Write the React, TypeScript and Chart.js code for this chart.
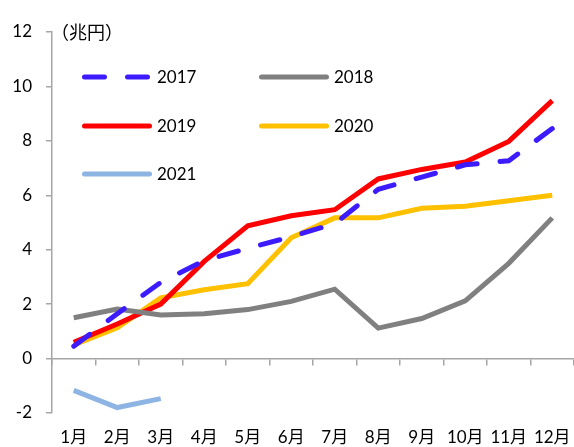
import React, { useEffect, useRef } from 'react';
import { Chart, registerables } from 'chart.js';

Chart.register(...registerables);

const months = ['1月', '2月', '3月', '4月', '5月', '6月', '7月', '8月', '9月', '10月', '11月', '12月'];
const yTickValues = [-2, 0, 2, 4, 6, 8, 10, 12];
const unitLabel = '（兆円）';

const seriesNames = ['2017', '2018', '2019', '2020', '2021'];
const s2017 = [0.45, 1.65, 2.8, 3.6, 4.05, 4.48, 4.96, 6.22, 6.67, 7.12, 7.27, 8.45];
const s2018 = [1.5, 1.82, 1.6, 1.65, 1.8, 2.1, 2.55, 1.12, 1.47, 2.12, 3.5, 5.17];
const s2019 = [0.6, 1.27, 2.0, 3.57, 4.88, 5.25, 5.47, 6.6, 6.95, 7.22, 7.98, 9.48];
const s2020 = [0.5, 1.13, 2.23, 2.53, 2.75, 4.44, 5.17, 5.17, 5.52, 5.6, 5.8, 6.0];
const s2021 = [-1.17, -1.8, -1.47];

const colors = ['#3C1CFF', '#808080', '#FF0000', '#FFC000', '#8EB4E3'];
const FONT = "Lato, 'Noto Sans CJK JP', sans-serif";
const CJK = "'Noto Sans CJK JP', sans-serif";
const AXIS_COLOR = '#A6A6A6';

const legendPlugin = {
  id: 'insideLegend',
  afterDraw(chart: any) {
    const ctx = chart.ctx;
    const ca = chart.chartArea;
    ctx.save();
    // unit label
    ctx.font = `18px ${CJK}`;
    ctx.fillStyle = '#000';
    ctx.textBaseline = 'middle';
    ctx.textAlign = 'left';
    ctx.fillText(unitLabel, ca.left - 1, ca.top);
    // legend
    ctx.font = `17px ${FONT}`;
    const cols = [ca.left + 32.5, ca.left + 209.5];
    const rows = [ca.top + 45, ca.top + 94, ca.top + 142];
    chart.data.datasets.forEach((ds: any, i: number) => {
      const x = cols[i % 2];
      const y = rows[Math.floor(i / 2)];
      ctx.save();
      ctx.strokeStyle = ds.borderColor;
      ctx.lineWidth = ds.borderWidth;
      ctx.lineCap = 'round';
      ctx.setLineDash(ds.borderDash || []);
      ctx.beginPath();
      ctx.moveTo(x, y);
      ctx.lineTo(x + 65, y);
      ctx.stroke();
      ctx.restore();
      ctx.fillStyle = '#000';
      ctx.fillText(ds.label, x + 72.5, y + 1);
    });
    ctx.restore();
  },
};

export default function App() {
  const ref = useRef<HTMLCanvasElement>(null);
  useEffect(() => {
    document.body.style.margin = '0';
    const all = [s2017, s2018, s2019, s2020, s2021];
    const chart = new Chart(ref.current!, {
      type: 'line',
      data: {
        labels: months,
        datasets: all.map((d, i) => ({
          label: seriesNames[i],
          data: d,
          borderColor: colors[i],
          backgroundColor: colors[i],
          borderWidth: 5,
          borderDash: i === 0 ? [20, 23] : [],
          borderCapStyle: i === 0 ? 'round' : 'butt',
          borderJoinStyle: 'miter',
          pointRadius: 0,
          tension: 0,
          fill: false,
        })) as any,
      },
      options: {
        animation: false,
        responsive: false,
        layout: { padding: { top: 32, right: 0, left: 0, bottom: 0 } },
        plugins: { legend: { display: false }, tooltip: { enabled: false }, title: { display: false } },
        scales: {
          x: {
            type: 'category',
            offset: true,
            position: 'bottom',
            grid: { display: true, offset: true, drawOnChartArea: false, drawTicks: true, tickLength: 14, color: 'rgba(0,0,0,0)' },
            border: { display: false },
            ticks: { font: { family: FONT, size: 17 }, color: '#000', padding: 0, maxRotation: 0, autoSkip: false },
            afterFit: (s: any) => { s.height = 34; },
          },
          x2: {
            type: 'category',
            offset: true,
            position: { y: 0 } as any,
            grid: { display: true, offset: true, drawOnChartArea: false, drawTicks: true, tickLength: 6, color: AXIS_COLOR, lineWidth: 1.5 },
            border: { display: true, color: AXIS_COLOR, width: 1.5 },
            ticks: { display: false },
          },
          y: {
            min: -2,
            max: 12,
            afterBuildTicks: (s: any) => { s.ticks = yTickValues.map((v) => ({ value: v })); },
            grid: { display: true, drawOnChartArea: false, drawTicks: true, tickLength: 6, color: AXIS_COLOR, lineWidth: 1.5 },
            border: { display: true, color: AXIS_COLOR, width: 1.5 },
            ticks: { font: { family: FONT, size: 17 }, color: '#000', padding: 14 },
            afterFit: (s: any) => { s.width = 52; },
          },
        },
      },
      plugins: [legendPlugin],
    } as any);
    return () => chart.destroy();
  }, []);
  return (
    <div style={{ position: 'fixed', left: 0, top: 0, width: 574, height: 447 }}>
      <canvas ref={ref} width={574} height={447} style={{ width: 574, height: 447 }} />
    </div>
  );
}
